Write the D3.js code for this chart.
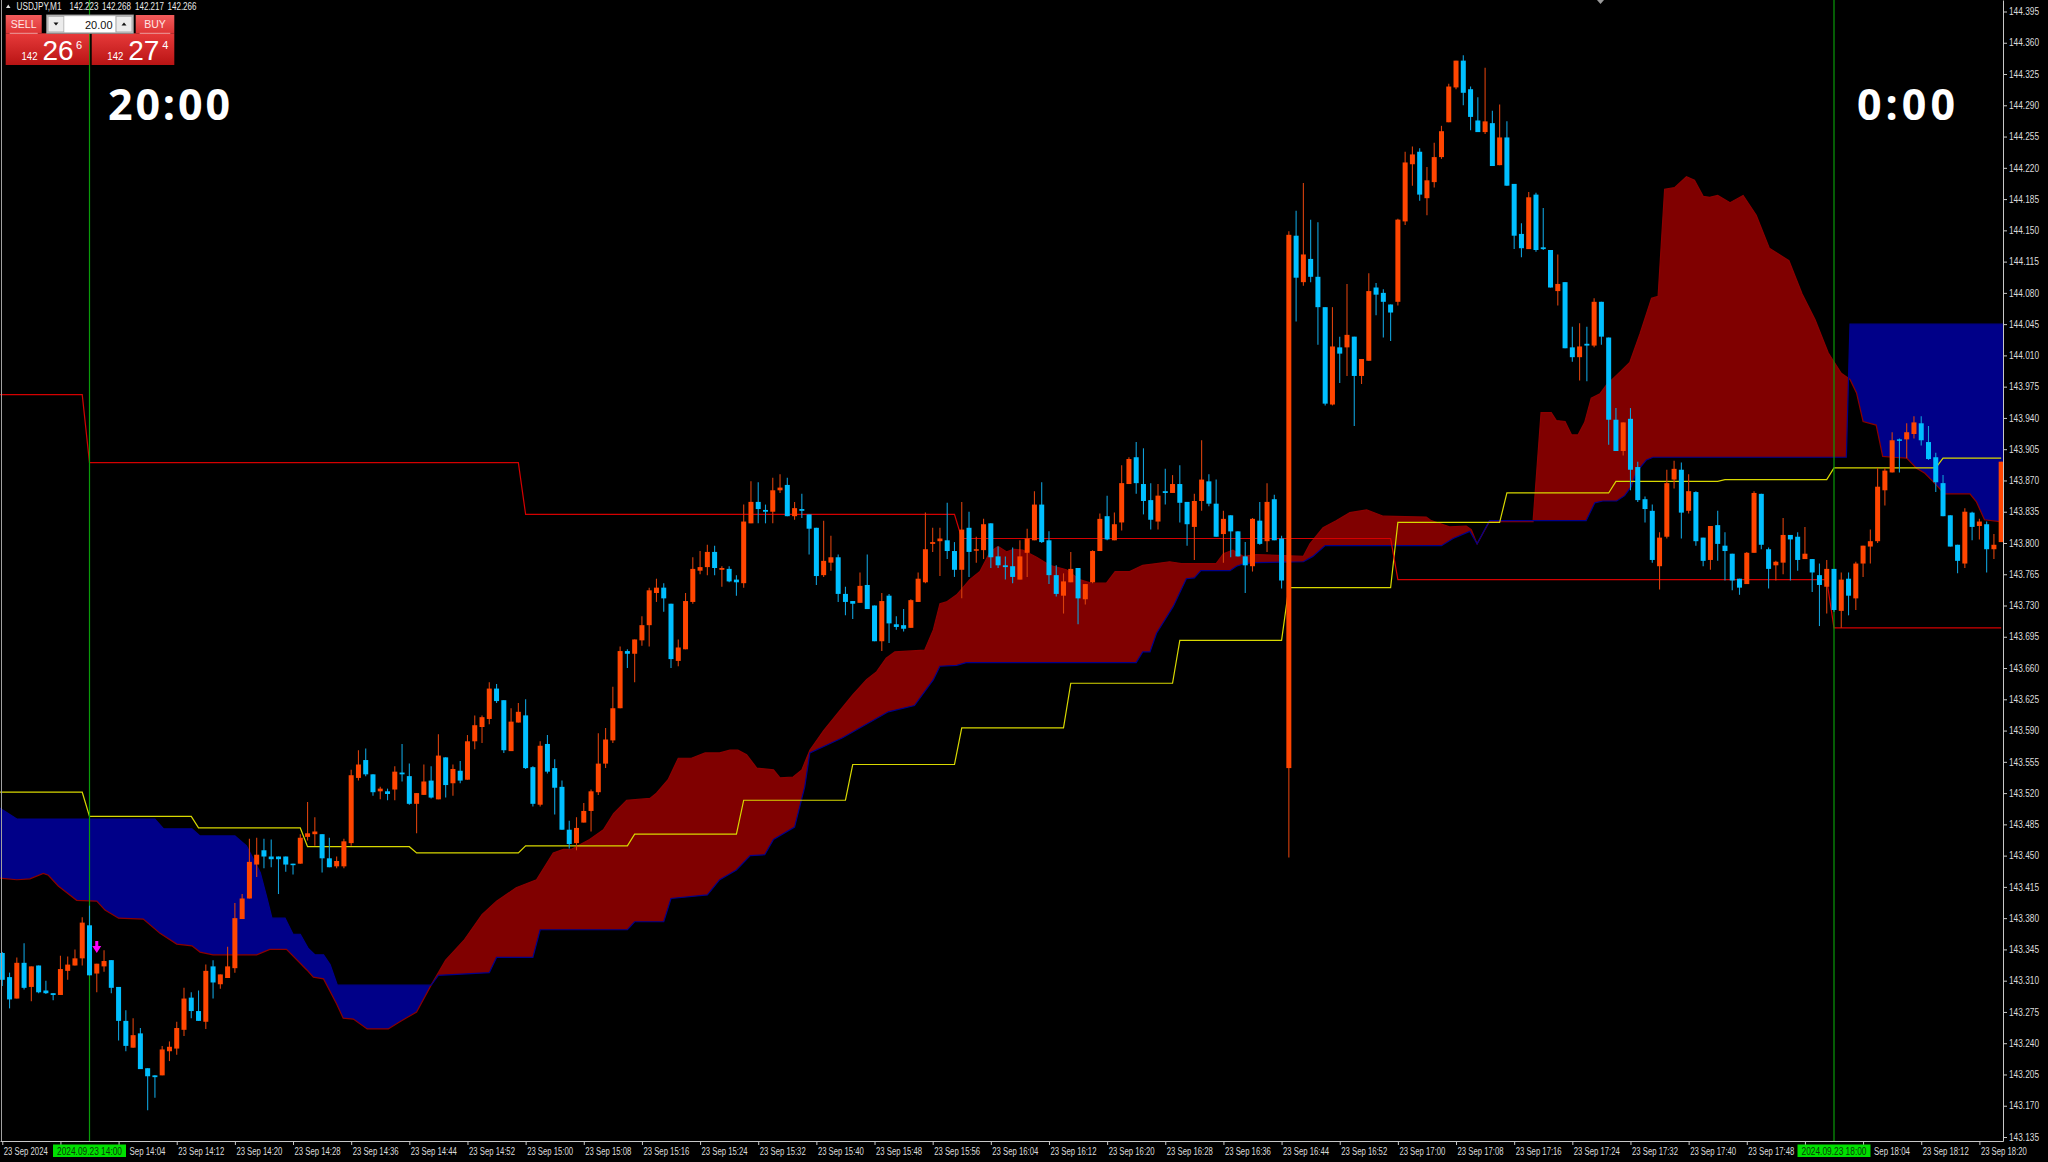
<!DOCTYPE html>
<html><head><meta charset="utf-8">
<script src="https://cdn.jsdelivr.net/npm/d3@7"></script>
<style>
html,body{margin:0;padding:0;background:#000;}
svg{display:block;}
</style></head><body>
<svg id="chart" width="2048" height="1162"></svg>
<script>
// ---------------- DATA ----------------
const symbolTitle = "USDJPY,M1";
const headerQuotes = ["142.223", "142.268", "142.217", "142.266"];
const firstBar = -12;   // bars are minutes relative to 14:00
const opens = [
143.341,143.314,143.290,143.330,143.303,143.327,143.299,143.296,143.294,143.321,143.327,143.335,
143.372,143.318,143.326,143.333,143.303,143.265,143.235,143.251,143.212,143.204,143.204,143.231,
143.234,143.255,143.291,143.276,143.264,143.326,143.306,143.313,143.324,143.379,143.402,143.440,
143.456,143.449,143.449,143.449,143.441,143.441,143.471,143.474,143.474,143.447,143.438,143.438,
143.464,143.537,143.557,143.541,143.522,143.522,143.524,143.543,143.539,143.508,143.518,143.534,
143.513,143.560,143.531,143.545,143.535,143.578,143.594,143.603,143.637,143.624,143.567,143.599,
143.607,143.549,143.507,143.575,143.548,143.527,143.479,143.464,143.487,143.500,143.521,143.553,
143.579,143.615,143.679,143.676,143.691,143.708,143.744,143.750,143.732,143.668,143.681,143.734,
143.769,143.773,143.790,143.770,143.771,143.759,143.755,143.822,143.846,143.837,143.835,143.859,
143.865,143.830,143.838,143.832,143.817,143.764,143.778,143.784,143.743,143.735,143.733,143.753,
143.730,143.690,143.741,143.709,143.708,143.705,143.734,143.756,143.799,143.802,143.803,143.791,
143.770,143.817,143.792,143.792,143.822,143.785,143.775,143.774,143.759,143.789,143.803,143.843,
143.803,143.764,143.741,143.756,143.772,143.737,143.756,143.791,143.830,143.803,143.823,143.866,
143.896,143.866,143.848,143.824,143.858,143.856,143.866,143.846,143.818,143.847,143.869,143.844,
143.810,143.831,143.813,143.785,143.774,143.825,143.802,143.849,143.805,143.548,144.144,144.092,
144.118,144.098,144.064,143.955,144.019,144.019,144.031,143.987,144.004,144.086,144.080,144.067,
144.070,144.160,144.224,144.238,144.186,144.204,144.232,144.271,144.310,144.340,144.308,144.273,
144.260,144.270,144.223,144.254,144.202,144.146,144.129,144.190,144.131,144.128,144.082,144.092,
144.019,144.008,144.023,144.021,144.070,144.030,143.938,143.903,143.939,143.885,143.849,143.836,
143.774,143.807,143.871,143.882,143.836,143.857,143.806,143.781,143.820,143.797,143.788,143.760,
143.754,143.789,143.855,143.793,143.775,143.778,143.809,143.807,143.782,143.782,143.764,143.751,
143.771,143.724,143.760,143.738,143.777,143.796,143.802,143.859,143.879,143.916,143.916,143.922,
143.934,143.913,143.896,143.867,143.831,143.798,143.777,143.834,143.819,143.821,143.793,143.801];
const highs = [
143.342,143.319,143.336,143.352,143.326,143.327,143.310,143.296,143.338,143.337,143.345,143.381,
143.394,143.329,143.344,143.333,143.303,143.277,143.268,143.257,143.212,143.204,143.237,143.242,
143.264,143.302,143.297,143.299,143.328,143.333,143.317,143.348,143.397,143.407,143.469,143.470,
143.469,143.468,143.449,143.449,143.441,143.474,143.510,143.493,143.474,143.470,143.449,143.469,
143.546,143.568,143.570,143.541,143.527,143.525,143.550,143.575,143.553,143.520,143.552,143.550,
143.586,143.560,143.552,143.556,143.585,143.607,143.607,143.644,143.642,143.624,143.615,143.621,
143.625,143.550,143.578,143.585,143.558,143.534,143.489,143.493,143.509,143.524,143.587,143.593,
143.639,143.684,143.681,143.692,143.718,143.750,143.760,143.755,143.732,143.692,143.744,143.784,
143.791,143.798,143.797,143.774,143.774,143.764,143.843,143.869,143.868,143.843,143.873,143.877,
143.873,143.846,143.855,143.832,143.817,143.825,143.808,143.787,143.751,143.735,143.767,143.787,
143.730,143.744,143.743,143.718,143.726,143.737,143.767,143.834,143.817,143.817,143.845,143.801,
143.846,143.835,143.807,143.827,143.822,143.796,143.785,143.795,143.803,143.816,143.858,143.868,
143.813,143.775,143.766,143.790,143.772,143.754,143.792,143.833,143.853,143.834,143.887,143.896,
143.913,143.906,143.867,143.866,143.883,143.876,143.887,143.846,143.855,143.915,143.877,143.871,
143.836,143.831,143.813,143.801,143.828,143.846,143.867,143.854,143.808,144.149,144.172,144.203,
144.162,144.159,144.064,144.064,144.031,144.090,144.031,144.006,144.102,144.091,144.084,144.067,
144.163,144.238,144.244,144.242,144.221,144.248,144.267,144.314,144.340,144.346,144.311,144.299,
144.332,144.284,144.291,144.272,144.202,144.158,144.193,144.192,144.175,144.128,144.123,144.092,
144.042,144.046,144.042,144.074,144.070,144.030,143.951,143.935,143.951,143.891,143.852,143.843,
143.812,143.882,143.892,143.890,143.877,143.858,143.806,143.819,143.836,143.812,143.788,143.760,
143.790,143.858,143.855,143.795,143.780,143.828,143.809,143.812,143.818,143.782,143.777,143.781,
143.771,143.767,143.767,143.779,143.797,143.815,143.884,143.884,143.924,143.917,143.934,143.942,
143.942,143.931,143.901,143.876,143.831,143.798,143.839,143.835,143.827,143.824,143.810,143.891];
const lows = [
143.304,143.279,143.290,143.300,143.287,143.296,143.295,143.288,143.294,143.311,143.327,143.327,
143.316,143.297,143.320,143.296,143.243,143.231,143.235,143.211,143.165,143.179,143.204,143.220,
143.227,143.248,143.268,143.265,143.256,143.290,143.301,143.313,143.319,143.379,143.402,143.426,
143.436,143.437,143.407,143.432,143.429,143.441,143.467,143.461,143.431,143.437,143.436,143.436,
143.461,143.534,143.539,143.517,143.513,143.512,143.512,143.533,143.507,143.475,143.518,143.514,
143.513,143.515,143.517,143.531,143.535,143.569,143.576,143.597,143.621,143.565,143.567,143.599,
143.547,143.505,143.505,143.542,143.496,143.479,143.458,143.456,143.487,143.477,143.518,143.548,
143.576,143.615,143.660,143.644,143.685,143.684,143.734,143.723,143.660,143.662,143.681,143.732,
143.765,143.764,143.764,143.751,143.756,143.741,143.750,143.822,143.822,143.822,143.822,143.856,
143.830,143.826,143.828,143.787,143.753,143.762,143.769,143.734,143.719,143.715,143.733,143.726,
143.690,143.679,143.688,143.703,143.701,143.705,143.734,143.755,143.790,143.763,143.782,143.762,
143.738,143.762,143.778,143.782,143.772,143.772,143.759,143.755,143.759,143.762,143.803,143.800,
143.754,143.740,143.721,143.756,143.709,143.731,143.755,143.791,143.803,143.803,143.814,143.866,
143.855,143.832,143.815,143.815,143.843,143.856,143.823,143.797,143.781,143.836,143.841,143.807,
143.778,143.784,143.785,143.744,143.768,143.798,143.790,143.803,143.749,143.448,144.048,144.088,
144.092,144.022,143.954,143.954,143.979,143.987,143.931,143.978,144.004,144.055,144.030,144.026,
144.066,144.156,144.200,144.183,144.167,144.198,144.230,144.271,144.308,144.290,144.262,144.260,
144.258,144.222,144.223,144.200,144.129,144.120,144.129,144.126,144.128,144.086,144.066,144.018,
144.003,143.982,143.981,144.019,144.022,143.910,143.903,143.898,143.859,143.846,143.823,143.778,
143.748,143.805,143.861,143.805,143.833,143.797,143.774,143.770,143.780,143.758,143.747,143.742,
143.754,143.789,143.793,143.749,143.758,143.765,143.758,143.769,143.782,143.745,143.707,143.721,
143.723,143.705,143.719,143.725,143.762,143.777,143.800,143.842,143.879,143.879,143.895,143.917,
143.909,143.893,143.857,143.830,143.796,143.766,143.772,143.803,143.804,143.767,143.782,143.801];
const closes = [
143.311,143.289,143.330,143.302,143.326,143.297,143.296,143.294,143.323,143.328,143.335,143.375,
143.316,143.329,143.332,143.302,143.265,143.237,143.249,143.211,143.203,143.202,143.233,143.236,
143.257,143.290,143.276,143.265,143.321,143.308,143.317,143.326,143.380,143.402,143.443,143.451,
143.449,143.446,143.446,143.440,143.440,143.470,143.475,143.477,143.447,143.437,143.444,143.466,
143.540,143.552,143.541,143.521,143.525,143.519,143.544,143.541,143.508,143.520,143.533,143.515,
143.562,143.529,143.547,143.534,143.578,143.596,143.605,143.637,143.623,143.568,143.600,143.611,
143.548,143.508,143.573,143.544,143.526,143.479,143.463,143.481,143.500,143.522,143.553,143.580,
143.615,143.679,143.676,143.692,143.708,143.747,143.750,143.738,143.670,143.683,143.735,143.771,
143.773,143.790,143.772,143.772,143.757,143.756,143.824,143.846,143.838,143.835,143.859,143.862,
143.830,143.839,143.836,143.816,143.763,143.780,143.784,143.743,143.734,143.732,143.752,143.726,
143.690,143.735,143.710,143.706,143.704,143.736,143.760,143.793,143.801,143.805,143.791,143.770,
143.815,143.790,143.793,143.821,143.784,143.775,143.773,143.762,143.785,143.805,143.843,143.801,
143.764,143.743,143.757,143.771,143.738,143.754,143.791,143.827,143.804,143.821,143.867,143.894,
143.867,143.847,143.826,143.853,143.856,143.866,143.845,143.821,143.847,143.871,143.844,143.807,
143.827,143.813,143.785,143.775,143.827,143.799,143.846,143.803,143.758,144.145,144.097,144.123,
144.098,144.064,143.956,144.020,144.012,144.033,143.987,144.006,144.082,144.078,144.070,144.058,
144.162,144.226,144.235,144.190,144.206,144.232,144.261,144.311,144.340,144.304,144.277,144.260,
144.272,144.222,144.254,144.200,144.144,144.130,144.187,144.128,144.129,144.086,144.090,144.018,
144.008,144.020,144.021,144.070,144.031,143.938,143.903,143.935,143.882,143.848,143.838,143.781,
143.806,143.867,143.883,143.834,143.858,143.802,143.780,143.819,143.799,143.791,143.758,143.750,
143.789,143.856,143.798,143.771,143.779,143.809,143.804,143.781,143.788,143.767,143.753,143.771,
143.725,143.759,143.741,143.777,143.797,143.802,143.863,143.881,143.915,143.915,143.924,143.935,
143.915,143.894,143.868,143.830,143.796,143.780,143.835,143.818,143.824,143.793,143.798,143.891];

// cloud spans: [bar, price]
const spanA = [
[-12.5,143.504],[-10.0,143.491],[9.0,143.491],[10.2,143.480],[14.1,143.480],[15.2,143.472],[20.0,143.472],
[21.6,143.461],[23.5,143.431],[24.4,143.403],[25.1,143.380],[26.9,143.380],[28.0,143.362],[29.0,143.362],
[30.1,143.346],[31.0,143.339],[32.2,143.339],[33.1,143.328],[34.1,143.305],[47,143.305],[48,143.316],
[55,143.319],[56,143.336],[61,143.336],[62,143.367],[74,143.367],[75,143.376],[79,143.376],[80,143.402],
[85,143.406],[86.7,143.423],[89.0,143.434],[90.9,143.450],[92.9,143.451],[94.1,143.468],[97.0,143.482],
[98.4,143.527],[99.1,143.565],[103.6,143.582],[109.9,143.611],[113.5,143.618],[116.1,143.647],[117.0,143.662],
[119.3,143.663],[120.6,143.666],[144.0,143.666],[144.9,143.678],[145.9,143.678],[146.8,143.699],[149.1,143.729],
[150.9,143.760],[152.0,143.761],[152.9,143.769],[156.9,143.769],[157.8,143.774],[158.9,143.777],[160.5,143.778],
[167.0,143.779],[168.3,143.785],[170.0,143.797],[186.0,143.797],[187.6,143.805],[189.9,143.813],[190.9,143.799],
[192.6,143.825],[205.9,143.825],[207.1,143.845],[208.2,143.847],[210.1,143.847],[211.2,143.853],[212.1,143.863],
[212.8,143.879],[214.2,143.893],[215.1,143.896],[241.7,143.896],[242.2,144.045],[263.6,144.045]];
const spanB = [
[-12.5,143.425],[-10.0,143.423],[-8.2,143.424],[-6.35,143.430],[-5.66,143.428],[-4.3,143.416],[-1.77,143.400],
[1.0,143.399],[2.13,143.389],[4.0,143.380],[7.4,143.379],[9.7,143.363],[12.0,143.351],[14.1,143.349],
[15.2,143.342],[17.0,143.339],[23.0,143.339],[24.8,143.345],[27.1,143.345],[29.9,143.322],[30.8,143.314],
[32.2,143.312],[34.0,143.284],[34.9,143.268],[36.3,143.267],[38.2,143.256],[41.1,143.256],[42.7,143.264],
[45,143.275],[47,143.305],[49,143.333],[51.5,143.355],[54,143.384],[56,143.399],[58.7,143.414],[61.5,143.423],
[63.8,143.453],[65.2,143.457],[66.3,143.457],[68.8,143.468],[70.7,143.479],[72.1,143.497],[73.9,143.512],
[77.1,143.514],[78.0,143.520],[79.6,143.535],[81.0,143.559],[82.8,143.559],[84.7,143.565],[86.7,143.565],
[88.1,143.568],[89.2,143.568],[90.4,143.563],[91.8,143.548],[94.1,143.546],[95.0,143.537],[96.8,143.538],
[98.0,143.546],[99.1,143.568],[101,143.590],[103,143.610],[105,143.630],[106.9,143.647],[108.3,143.656],
[109.6,143.671],[110.8,143.678],[114.9,143.680],[116.1,143.703],[117.0,143.732],[117.9,143.734],[119.3,143.742],
[121.1,143.759],[122.5,143.768],[123.9,143.790],[125.0,143.796],[126.2,143.790],[127.1,143.793],[128.4,143.792],
[130.3,143.784],[132.1,143.775],[134.4,143.770],[136.2,143.759],[137.8,143.755],[139.9,143.755],[141.1,143.768],
[143.1,143.768],[144.9,143.775],[146.8,143.777],[148.6,143.779],[150.2,143.777],[155.0,143.777],[156.0,143.788],
[157.3,143.792],[158.7,143.785],[160.5,143.787],[167.0,143.785],[167.9,143.799],[169.7,143.817],[171.5,143.825],
[173.4,143.834],[175.7,143.837],[178.0,143.830],[183.9,143.829],[184.6,143.825],[187.1,143.818],[189.4,143.819],
[190.1,143.815],[190.9,143.799],[192.6,143.824],[198.6,143.824],[199.7,143.946],[201.1,143.946],[201.8,143.937],
[203.0,143.936],[203.9,143.921],[204.8,143.921],[205.7,143.935],[206.6,143.962],[207.8,143.967],[208.7,143.977],
[210.5,143.991],[211.9,144.002],[213.3,144.034],[214.9,144.074],[215.8,144.076],[216.7,144.196],[218.1,144.198],
[219.7,144.210],[220.8,144.206],[222.0,144.188],[222.9,144.187],[224,144.189],[225.7,144.181],[227.5,144.189],
[229.3,144.167],[231.1,144.130],[233.8,144.116],[235.6,144.079],[237.4,144.050],[239.2,144.013],[241.0,143.990],
[242.2,143.983],[243.1,143.968],[244.0,143.936],[245.8,143.932],[246.7,143.897],[248.1,143.896],[250.0,143.895],
[251.3,143.884],[252.5,143.878],[253.6,143.869],[255.2,143.855],[258.7,143.855],[259.6,143.846],[260.7,143.826],
[262.8,143.824],[263.6,143.824]];

// step lines: [start bar, level]
const redSteps = [[-13,143.966],[0,143.890],[60,143.832],[120,143.805],[180,143.759],[240,143.705]];
const yellowSteps = [[-13,143.521],[0,143.494],[15,143.481],[30,143.460],[45,143.453],[60,143.461],[75,143.474],
[90,143.512],[105,143.552],[120,143.593],[135,143.643],[150,143.691],[165,143.750],[180,143.823],[195,143.856],
[210,143.869],[225,143.871],[240,143.884],[255,143.895]];

const sellArrows = [[1, 143.341]];
const vLines = [[0, "2024.09.23 14:00"], [240, "2024.09.23 18:00"]];
const bigLabels = [["20:00", 108, 122], ["0:00", 1857, 98]];

const priceTicks = d3.range(0, 37).map(k => +(143.135 + k * 0.035).toFixed(3));
const timeTickBars = [-12,-4,4,12,20,28,36,44,52,60,68,76,84,92,100,108,116,124,132,140,148,156,164,172,180,188,196,204,212,220,228,236,244,252,260];
const timeLabels = ["23 Sep 2024","23 Sep 13:56","23 Sep 14:04","23 Sep 14:12","23 Sep 14:20","23 Sep 14:28","23 Sep 14:36",
"23 Sep 14:44","23 Sep 14:52","23 Sep 15:00","23 Sep 15:08","23 Sep 15:16","23 Sep 15:24","23 Sep 15:32","23 Sep 15:40",
"23 Sep 15:48","23 Sep 15:56","23 Sep 16:04","23 Sep 16:12","23 Sep 16:20","23 Sep 16:28","23 Sep 16:36","23 Sep 16:44",
"23 Sep 16:52","23 Sep 17:00","23 Sep 17:08","23 Sep 17:16","23 Sep 17:24","23 Sep 17:32","23 Sep 17:40","23 Sep 17:48",
"23 Sep 17:56","23 Sep 18:04","23 Sep 18:12","23 Sep 18:20"];

// ---------------- LAYOUT ----------------
const plotRight = 2003, plotBottom = 1141;
const x = d3.scaleLinear().domain([0, 240]).range([89.5, 1834]);
const y = d3.scaleLinear().domain([143.135, 144.395]).range([1137, 11.5]);
const smallFont = '"Liberation Sans",Arial,sans-serif';
const boxHalf = 36.5;

const svg = d3.select('#chart');
svg.append('rect').attr('width', 2048).attr('height', 1162).attr('fill', '#000');
const defs = svg.append('defs');
defs.append('clipPath').attr('id', 'plotClip').append('rect')
  .attr('x', 0).attr('y', 0).attr('width', plotRight).attr('height', plotBottom);

const areaBelow = d3.area().x(d => x(d[0])).y0(d => y(d[1])).y1(plotBottom + 5);
const areaAbove = d3.area().x(d => x(d[0])).y0(-5).y1(d => y(d[1]));
[['belowA', areaBelow(spanA)], ['aboveA', areaAbove(spanA)], ['belowB', areaBelow(spanB)], ['aboveB', areaAbove(spanB)]]
  .forEach(([id, d]) => defs.append('clipPath').attr('id', id).append('path').attr('d', d));

const plot = svg.append('g').attr('clip-path', 'url(#plotClip)');

// clouds
plot.append('g').attr('clip-path', 'url(#belowA)').append('rect')
  .attr('x', 0).attr('y', 0).attr('width', plotRight).attr('height', plotBottom)
  .attr('clip-path', 'url(#aboveB)').attr('fill', '#000088');
plot.append('g').attr('clip-path', 'url(#belowB)').append('rect')
  .attr('x', 0).attr('y', 0).attr('width', plotRight).attr('height', plotBottom)
  .attr('clip-path', 'url(#aboveA)').attr('fill', '#800000');
const lineGen = d3.line().x(d => x(d[0])).y(d => y(d[1]));
plot.append('path').attr('d', lineGen(spanB)).attr('fill', 'none').attr('stroke', '#8b0000').attr('stroke-width', 1.2);
plot.append('path').attr('d', lineGen(spanA)).attr('fill', 'none').attr('stroke', '#00008b').attr('stroke-width', 1.2);

// step lines
const lastBar = firstBar + opens.length - 1;
function stepPoints(steps) {
  const pts = [];
  steps.forEach((s, k) => {
    const end = k < steps.length - 1 ? steps[k + 1][0] - 1 : lastBar;
    pts.push([s[0], s[1]]); pts.push([end, s[1]]);
  });
  return pts;
}
plot.append('path').attr('d', lineGen(stepPoints(yellowSteps))).attr('fill', 'none')
  .attr('stroke', '#d8d800').attr('stroke-width', 1.2);
plot.append('path').attr('d', lineGen(stepPoints(redSteps))).attr('fill', 'none')
  .attr('stroke', '#d40000').attr('stroke-width', 1.2);

// vertical time lines
vLines.forEach(v => {
  plot.append('line').attr('x1', x(v[0])).attr('x2', x(v[0])).attr('y1', 0).attr('y2', plotBottom)
    .attr('stroke', '#0a9a0a').attr('stroke-width', 1.2);
});

// candles
const bars = opens.map((o, k) => ({ i: firstBar + k, o, h: highs[k], l: lows[k], c: closes[k] }));
const cg = plot.append('g');
cg.selectAll('line.wick').data(bars).join('line')
  .attr('x1', d => x(d.i)).attr('x2', d => x(d.i))
  .attr('y1', d => y(d.h)).attr('y2', d => y(d.l))
  .attr('stroke', d => d.c >= d.o ? '#d8400c' : '#0f9fd8').attr('stroke-width', 1.1);
cg.selectAll('rect.body').data(bars).join('rect')
  .attr('x', d => x(d.i) - 2.5).attr('width', 5)
  .attr('y', d => y(Math.max(d.o, d.c)))
  .attr('height', d => Math.max(1.5, Math.abs(y(d.o) - y(d.c))))
  .attr('fill', d => d.c >= d.o ? '#ff4500' : '#00bfff');

// sell arrow
sellArrows.forEach(a => {
  const cx = x(a[0]), ty = y(a[1]);
  plot.append('path')
    .attr('d', `M${cx - 1.5},${ty - 12} L${cx + 1.5},${ty - 12} L${cx + 1.5},${ty - 7} L${cx + 4.5},${ty - 7} L${cx},${ty} L${cx - 4.5},${ty - 7} L${cx - 1.5},${ty - 7} Z`)
    .attr('fill', '#ff00ff');
});

// borders
svg.append('line').attr('x1', 1.5).attr('x2', 1.5).attr('y1', 0).attr('y2', plotBottom).attr('stroke', '#a0a0a0');

// price axis
const ya = d3.scaleLinear().domain([y.invert(plotBottom), y.invert(0)]).range([plotBottom, 0]);
const yAxis = svg.append('g').attr('transform', `translate(${plotRight},0)`)
  .call(d3.axisRight(ya).tickValues(priceTicks).tickFormat(d3.format('.3f')).tickSize(4).tickSizeOuter(0).tickPadding(2));
yAxis.select('.domain').attr('stroke', '#c8c8c8');
yAxis.selectAll('.tick line').attr('stroke', '#c8c8c8');
yAxis.selectAll('.tick text').attr('fill', '#dcdcdc').attr('textLength', 30).attr('lengthAdjust', 'spacingAndGlyphs')
  .style('font-family', smallFont).style('font-size', '10px');

// time axis: labels whose start is hidden by a green time box show only their visible part
const xa = d3.scaleLinear().domain([x.invert(0), x.invert(plotRight)]).range([0, plotRight]);
function coveringBox(px) {
  return vLines.find(v => px >= x(v[0]) - boxHalf && px <= x(v[0]) + boxHalf);
}
const labelInfo = timeTickBars.map((b, i) => {
  const px = xa(b) + 1, box = coveringBox(px);
  if (!box) return { text: timeLabels[i], dx: 1, len: i === 0 ? 44 : 46 };
  const boxRight = x(box[0]) + boxHalf;
  if (px + 49 <= boxRight + 30) return { text: '', dx: 1, len: 0 };
  const visible = timeLabels[i].split(' ').slice(1).join(' ');
  return { text: visible, dx: boxRight + 3 - xa(b), len: 36 };
});
const xAxis = svg.append('g').attr('transform', `translate(0,${plotBottom})`)
  .call(d3.axisBottom(xa).tickValues(timeTickBars).tickFormat((d, i) => labelInfo[i].text).tickSize(4).tickSizeOuter(0).tickPadding(3));
xAxis.select('.domain').attr('stroke', '#c8c8c8');
xAxis.selectAll('.tick line').attr('stroke', '#c8c8c8');
xAxis.selectAll('.tick text').attr('fill', '#dcdcdc').attr('text-anchor', 'start')
  .attr('x', (d, i) => labelInfo[i].dx)
  .each(function (d, i) { if (labelInfo[i].len) d3.select(this).attr('textLength', labelInfo[i].len).attr('lengthAdjust', 'spacingAndGlyphs'); })
  .style('font-family', smallFont).style('font-size', '10px');

// green labels for vertical lines
vLines.forEach(v => {
  const cx = x(v[0]);
  svg.append('rect').attr('x', cx - boxHalf).attr('y', 1144.5).attr('width', boxHalf * 2).attr('height', 12.5).attr('fill', '#00e000');
  svg.append('text').attr('x', cx - 32.5).attr('y', 1154.5).text(v[1])
    .attr('textLength', 65).attr('lengthAdjust', 'spacingAndGlyphs')
    .attr('fill', '#0a3a0a').style('font-family', smallFont).style('font-size', '10px');
});

// top marker
svg.append('path').attr('d', 'M1597,0 L1604,0 L1600.5,4 Z').attr('fill', '#9a9a9a');

// big time labels
bigLabels.forEach(b => {
  svg.append('text').attr('x', b[1]).attr('y', 120).text(b[0])
    .attr('textLength', b[2]).attr('lengthAdjust', 'spacing')
    .attr('fill', '#ffffff').style('font-family', '"Open Sans",Lato,sans-serif')
    .style('font-weight', 700).style('font-size', '43px');
});

// header
svg.append('path').attr('d', 'M6,8 L10.5,8 L8.25,4.5 Z').attr('fill', '#e0e0e0');
const hdr = [[symbolTitle, 16.5, 45], [headerQuotes[0], 69.5, 29], [headerQuotes[1], 102, 29], [headerQuotes[2], 135, 29], [headerQuotes[3], 167.5, 29]];
hdr.forEach(h => svg.append('text').attr('x', h[1]).attr('y', 9.5).text(h[0])
  .attr('textLength', h[2]).attr('lengthAdjust', 'spacingAndGlyphs')
  .attr('fill', '#e8e8e8').style('font-family', smallFont).style('font-size', '10px'));

// one-click trading panel
const gTop = defs.append('linearGradient').attr('id', 'gTop').attr('x1', 0).attr('y1', 0).attr('x2', 0).attr('y2', 1);
gTop.append('stop').attr('offset', '0%').attr('stop-color', '#f35c5c');
gTop.append('stop').attr('offset', '100%').attr('stop-color', '#dd3434');
const gBig = defs.append('linearGradient').attr('id', 'gBig').attr('x1', 0).attr('y1', 0).attr('x2', 0).attr('y2', 1);
gBig.append('stop').attr('offset', '0%').attr('stop-color', '#e73a3a');
gBig.append('stop').attr('offset', '100%').attr('stop-color', '#b91414');
const panel = svg.append('g');
function sideBox(x0, x1, topX0, topX1, label, big, small, sup) {
  panel.append('rect').attr('x', x0).attr('y', 33.3).attr('width', x1 - x0).attr('height', 31.7).attr('fill', 'url(#gBig)');
  panel.append('rect').attr('x', topX0).attr('y', 15).attr('width', topX1 - topX0).attr('height', 18.3).attr('fill', 'url(#gTop)');
  panel.append('line').attr('x1', topX0 + 4).attr('x2', topX1 - 4).attr('y1', 33.3).attr('y2', 33.3).attr('stroke', '#f7a0a0');
  panel.append('text').attr('x', (topX0 + topX1) / 2).attr('y', 28).attr('text-anchor', 'middle').text(label)
    .attr('fill', '#ffe6e6').style('font-family', '"Liberation Sans",sans-serif').style('font-size', '10.5px');
  panel.append('text').attr('x', small[1]).attr('y', 60).text(small[0]).attr('fill', '#fff')
    .attr('textLength', 16).attr('lengthAdjust', 'spacingAndGlyphs')
    .style('font-family', '"Liberation Sans",sans-serif').style('font-size', '11px');
  panel.append('text').attr('x', big[1]).attr('y', 60).text(big[0]).attr('fill', '#fff')
    .style('font-family', '"Liberation Sans",sans-serif').style('font-size', '28px');
  panel.append('text').attr('x', sup[1]).attr('y', 48.5).text(sup[0]).attr('fill', '#fff')
    .style('font-family', '"Liberation Sans",sans-serif').style('font-size', '11px');
}
sideBox(5.7, 89.3, 5.7, 41.7, 'SELL', ['26', 42.5], ['142', 21.5], ['6', 76]);
sideBox(91.7, 174.3, 135.7, 174.3, 'BUY', ['27', 128.3], ['142', 107.3], ['4', 162.3]);
// lot box
panel.append('rect').attr('x', 46.7).attr('y', 15).attr('width', 86.6).attr('height', 18.3).attr('fill', '#d4d4d4').attr('stroke', '#8c8c8c');
panel.append('rect').attr('x', 48).attr('y', 16.3).attr('width', 16).attr('height', 15.7).attr('fill', '#ececec').attr('stroke', '#a8a8a8');
panel.append('rect').attr('x', 64.3).attr('y', 16.3).attr('width', 51.4).attr('height', 15.7).attr('fill', '#ffffff');
panel.append('rect').attr('x', 116).attr('y', 16.3).attr('width', 16).attr('height', 15.7).attr('fill', '#ececec').attr('stroke', '#a8a8a8');
panel.append('path').attr('d', 'M53.5,22.5 L58.5,22.5 L56,25.5 Z').attr('fill', '#111');
panel.append('path').attr('d', 'M121.5,25.5 L126.5,25.5 L124,22.5 Z').attr('fill', '#111');
panel.append('text').attr('x', 112.5).attr('y', 28.5).attr('text-anchor', 'end').text('20.00')
  .attr('fill', '#111').style('font-family', '"Liberation Sans",sans-serif').style('font-size', '11px');
</script>
</body></html>
